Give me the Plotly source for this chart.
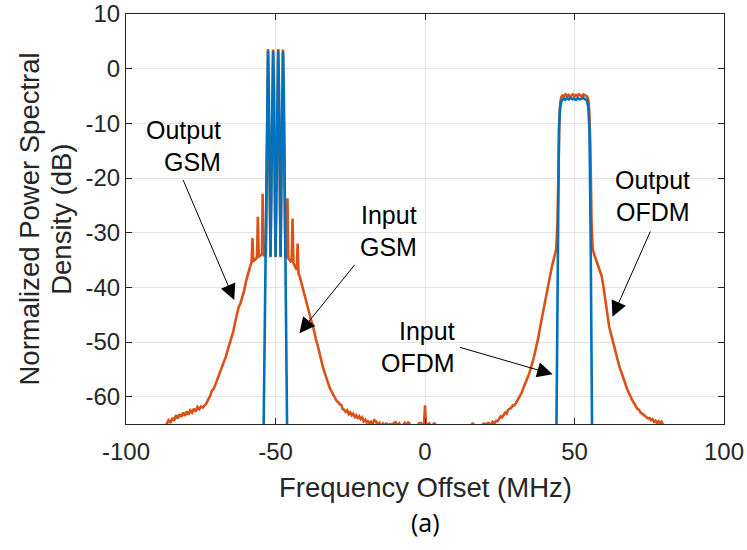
import plotly.graph_objects as go

# ---------------- data ----------------
# Output spectrum (orange), frequency offset in MHz and PSD in dB
out_x = [
    -100, -90, -88, -87.2, -86.4, -85.8, -85.1, -84.5, -83.9, -83.3, -82.7, -82.1, -81.5, -80.9,
    -80.3, -79.7, -79.1, -78.5, -77.9, -77.3, -76.7, -76.1, -75.5, -74.9, -74.3, -73.7, -73.1,
    -72.5, -71.9, -71.3, -70.7, -70.1, -69.5, -68.9, -68.3, -67.7, -67.1, -66.5, -65.9, -65.3,
    -64.7, -64.1, -63.5, -62.9, -62.3, -61.7, -61.1, -60.5, -59.9, -59.3, -58.8, -58.3,
    -58.0, -57.7, -57.4, -57.0, -56.6, -56.2, -55.9, -55.6, -55.2, -54.8, -54.5, -54.3, -54.0,
    -53.6, -53.2, -52.8, -52.5, -52.2, -51.7, -51.1, -50.8, -50.5, -50.0, -49.4, -49.1, -48.8,
    -48.3, -47.8, -47.5, -47.2, -46.7, -46.3, -46.0, -45.7, -45.3, -44.9, -44.6, -44.3, -44.0,
    -43.6, -43.2, -42.9, -42.6, -42.3, -41.9,
    -41.5, -41.0, -40.5, -40.0, -39.5, -39.0, -38.5, -38.0, -37.5, -37.0, -36.5, -36.0, -35.5,
    -35.0, -34.5, -34.0, -33.5, -33.0, -32.5, -32.0, -31.5, -31.0, -30.5, -30.0, -29.5, -29.0,
    -28.5, -28.0, -27.5, -27.0,
    -26.5, -26.0, -25.5, -25.0, -24.5, -24.0, -23.5, -23.0, -22.5, -22.0, -21.5, -21.0, -20.5,
    -20.0, -19.5, -19.0, -18.5, -18.0, -17.5, -17.0, -16.4, -15.8, -15.2, -14.6, -14.0, -13.4,
    -12.8, -12.2, -11.6, -11.0, -10.4, -9.8, -9.2, -8.6, -8.0, -7.4, -6.8, -6.2, -5.6, -5.0,
    -4.4, -3.8, -3.2, -2.6, -2.0, -1.4, -0.8, -0.3, 0.0, 0.3, 0.8, 1.4, 2.0, 2.6, 3.2, 3.8, 4.4,
    5.0, 6.0, 8.0, 10.0, 12.0, 14.0, 15.4, 15.9, 16.5, 17.2, 18.0, 18.8, 19.4, 19.8, 20.4, 21.0,
    21.5, 22.0, 22.6, 23.2, 23.8, 24.3, 24.8, 25.3, 25.8, 26.3, 26.8, 27.3, 27.8, 28.3, 28.8,
    29.3, 29.8, 30.4, 30.9, 31.4, 31.9, 32.4, 32.9, 33.4, 33.9, 34.4, 34.9, 35.4, 35.9, 36.4,
    36.9, 37.4, 37.9, 38.4, 38.9, 39.4, 39.9, 40.4, 40.9, 41.4, 41.9, 42.4, 42.9, 43.4, 43.9,
    44.3, 44.7, 45.0, 45.3, 45.6, 46.0, 46.5, 47.0, 47.5, 48.0, 48.5, 49.0, 49.5, 50.0, 50.5,
    51.0, 51.5, 52.0, 52.5, 53.0, 53.5, 54.0, 54.4, 54.7, 55.0, 55.3, 55.7, 56.1, 56.6, 57.1,
    57.6, 58.1, 58.6, 59.1, 59.6, 60.1, 60.6, 61.1, 61.6, 62.1, 62.6, 63.1, 63.6, 64.1, 64.6,
    65.1, 65.6, 66.1, 66.6, 67.1, 67.6, 68.1, 68.6, 69.1, 69.6, 70.1, 70.6, 71.1, 71.6, 72.1,
    72.6, 73.1, 73.6, 74.1, 74.6, 75.1, 75.6, 76.1, 76.6, 77.1, 77.6, 78.1, 78.6, 79.1, 79.5,
    80.0, 81.0, 90.0, 100.0,
]
out_y = [
    -70, -70, -67, -65.6, -65.0, -64.3, -64.8, -63.9, -64.4, -63.4, -64.0, -63.2, -63.7, -62.9,
    -63.5, -62.7, -63.3, -62.5, -62.9, -62.2, -62.7, -61.9, -62.3, -61.8, -62.0, -61.6, -61.2,
    -60.5, -59.9, -58.9, -58.6, -57.8, -56.9, -56.0, -55.2, -54.4, -53.4, -52.5, -51.3, -50.3,
    -49.1, -48.0, -46.4, -44.8, -43.6, -42.9, -41.9, -40.6, -39.0, -37.6, -36.8, -35.9,
    -35.4, -31.0, -35.3, -35.0, -34.8, -34.6, -27.1, -34.5, -34.2, -34.1, -33.8, -22.9, -34.0,
    -34.3, -33.5, -10.0, 3.6, -10.0, -34.5, -10.0, 3.5, -10.0, -34.5, -10.0, 3.6, -10.0,
    -34.5, -10.0, 3.5, -10.0, -34.0, -34.6, -23.7, -34.7, -35.0, -35.3, -35.2, -27.4, -35.6,
    -36.0, -36.4, -36.8, -32.0, -37.5, -38.0,
    -38.9, -39.6, -40.8, -41.9, -43.1, -44.0, -45.2, -46.2, -47.0, -48.4, -49.5, -50.4, -51.6,
    -52.8, -53.6, -54.9, -55.7, -56.7, -57.5, -58.2, -58.8, -59.4, -59.9, -60.3, -60.8, -61.0,
    -61.4, -61.5, -62.3, -62.4,
    -62.8, -62.5, -63.2, -62.9, -63.4, -63.1, -63.7, -63.4, -64.0, -63.6, -64.1, -63.8, -64.5,
    -64.2, -64.7, -64.4, -65.3, -64.6, -64.9, -64.3, -64.5, -65.2, -64.8, -65.5, -64.9, -65.3,
    -64.8, -65.6, -64.9, -65.4, -64.8, -64.7, -65.3, -64.9, -65.6, -65.1, -64.8, -65.4, -64.6, -65.2,
    -65.8, -65.4, -65.9, -65.3, -64.9, -64.8, -65.3, -64.9, -61.6, -64.9, -65.2, -64.9, -65.4, -65.1, -64.9, -65.3, -65.6,
    -66.2, -67.0, -68.0, -67.5, -68.0, -66.8, -65.8, -64.8, -65.3, -66.0, -66.4, -65.6, -65.0, -64.9, -65.2, -64.8,
    -64.9, -65.3, -64.6, -64.9, -64.4, -64.5, -64.0, -63.6, -63.8, -63.3, -62.9, -63.1, -62.4, -62.2, -62.1,
    -61.6, -61.6, -61.2, -60.7, -60.2, -59.8, -59.2, -58.4, -57.6, -57.0, -56.4, -55.7, -54.9, -53.8, -52.8,
    -51.7, -50.4, -49.2, -47.6, -46.1, -44.8, -43.3, -41.8, -40.2, -38.9, -37.5, -36.3, -35.2, -34.2, -33.0,
    -28.0, -14.0, -8.5, -6.0, -5.2, -4.9, -5.1, -4.7, -5.0, -4.8, -5.2, -4.9, -4.7, -5.1, -4.8,
    -5.0, -4.7, -4.9, -5.1, -4.7, -4.8, -5.0, -5.3, -6.0, -8.5, -14.0, -28.0, -33.0, -34.0, -34.8,
    -35.6, -36.4, -37.2, -38.0, -39.6, -41.6, -43.8, -45.9, -47.2, -48.3, -49.4, -50.3, -51.4, -52.6, -53.7,
    -54.7, -55.4, -56.3, -57.2, -57.9, -58.6, -59.2, -59.9, -60.4, -60.9, -61.4, -61.8, -62.3, -62.4, -62.9,
    -63.1, -63.3, -63.5, -63.7, -64.0, -63.9, -64.3, -64.1, -64.6, -64.4, -64.9, -64.5, -64.8, -64.6, -65.0,
    -65.6, -67.0, -70.0, -70.0,
]

# Input spectrum (blue): four GSM carriers and one OFDM carrier
in_x = [
    -100, -54.4, -53.9, -53.35, -53.05, -52.78, -52.5, -52.22, -51.95, -51.65, -51.35, -51.08, -50.8,
    -50.52, -50.25, -49.95, -49.65, -49.38, -49.1, -48.82, -48.55, -48.3, -48.05, -47.78, -47.5, -47.22,
    -46.95, -46.65, -46.2, -45.7,
    43.6, 44.4, 44.8, 45.2, 45.7, 46.3, 46.9, 47.5, 48.1, 48.7, 49.3, 49.9, 50.5, 51.1, 51.7,
    52.3, 52.9, 53.5, 54.1, 54.6, 55.0, 55.4, 56.2, 100,
]
in_y = [
    -90, -90, -62, -34.4, -20, -4, 3.3, -4, -20, -34.4, -20, -4, 3.2,
    -4, -20, -34.4, -20, -4, 3.3, -4, -20, -34.4, -20, -4, 3.2, -4,
    -20, -34.4, -62, -90,
    -90, -31, -11, -7, -5.8, -5.5, -5.7, -5.4, -5.6, -5.3, -5.6, -5.5, -5.7, -5.4, -5.6,
    -5.5, -5.3, -5.6, -5.7, -7, -11, -31, -90, -90,
]

x_ticks = [-100, -50, 0, 50, 100]
x_ticktext = ["-100", "-50", "0", "50", "100"]
y_ticks = [-60, -50, -40, -30, -20, -10, 0, 10]
y_ticktext = ["-60", "-50", "-40", "-30", "-20", "-10", "0", "10"]

# annotation texts and (tail, tip) points in data units
labels = [
    # (line1, line2, x_right, y_line1, y_line2, tail_x, tail_y, tip_x, tip_y)
    ("Output", "GSM", -67.5, -11.2, -17.0, -81.1, -20.1, -63.8, -42.3),
    ("Input", "GSM", -1.9, -26.8, -32.6, -23.1, -35.6, -42.0, -48.4),
    ("Input", "OFDM", 10.8, -48.0, -53.8, 11.2, -50.9, 42.7, -55.9),
    ("Output", "OFDM", 89.4, -20.4, -26.2, 75.6, -29.5, 62.7, -45.4),
]

ORANGE = "#D95319"
BLUE = "#0072BD"
DARK = "#262626"
FONT = "Liberation Sans, Arial, Helvetica, sans-serif"

fig = go.Figure()
fig.add_trace(go.Scatter(x=out_x, y=out_y, mode="lines",
                         line=dict(color=ORANGE, width=2.6), showlegend=False))
fig.add_trace(go.Scatter(x=in_x, y=in_y, mode="lines",
                         line=dict(color=BLUE, width=2.6), showlegend=False))

annotations = []
for l1, l2, xr, y1, y2, tx, ty, hx, hy in labels:
    annotations.append(dict(x=xr, y=y1, xref="x", yref="y", text=l1, showarrow=False,
                            xanchor="right", yanchor="middle",
                            font=dict(size=25, color="black", family=FONT)))
    annotations.append(dict(x=xr, y=y2, xref="x", yref="y", text=l2, showarrow=False,
                            xanchor="right", yanchor="middle",
                            font=dict(size=25, color="black", family=FONT)))
    annotations.append(dict(x=hx, y=hy, xref="x", yref="y", ax=tx, ay=ty,
                            axref="x", ayref="y", text="", showarrow=True,
                            arrowhead=2, arrowsize=3.1, arrowwidth=1,
                            arrowcolor="black", standoff=0, startstandoff=0))

annotations.append(dict(x=-0.163, y=0.5, xref="paper", yref="paper",
                        text="Normalized Power Spectral", textangle=-90,
                        showarrow=False, xanchor="center", yanchor="middle",
                        font=dict(size=27.5, color=DARK, family=FONT)))
annotations.append(dict(x=-0.109, y=0.5, xref="paper", yref="paper",
                        text="Density (dB)", textangle=-90,
                        showarrow=False, xanchor="center", yanchor="middle",
                        font=dict(size=27.5, color=DARK, family=FONT)))
annotations.append(dict(x=0.5, y=-0.156, xref="paper", yref="paper",
                        text="Frequency Offset (MHz)", showarrow=False,
                        xanchor="center", yanchor="middle",
                        font=dict(size=27.5, color=DARK, family=FONT)))
annotations.append(dict(x=0.5, y=-0.239, xref="paper", yref="paper",
                        text="(a)", showarrow=False,
                        xanchor="center", yanchor="middle",
                        font=dict(size=25, color="black", family="Open Sans, sans-serif")))

axis_common = dict(
    showline=True, linecolor=DARK, linewidth=1, mirror="ticks",
    ticks="inside", ticklen=6, tickcolor=DARK, tickwidth=1,
    showgrid=True, gridcolor="#e3e3e3", gridwidth=1, zeroline=False,
    tickfont=dict(size=24, color=DARK, family=FONT), automargin=False,
)

fig.update_layout(
    width=747, height=550,
    margin=dict(l=126, r=23, t=14, b=126),
    paper_bgcolor="white", plot_bgcolor="white",
    xaxis=dict(range=[-100, 100], tickvals=x_ticks, ticktext=x_ticktext,
               ticklabelstandoff=6, **axis_common),
    yaxis=dict(range=[-65, 10], tickvals=y_ticks, ticktext=y_ticktext, **axis_common),
    annotations=annotations,
    showlegend=False,
)

fig.write_html("out.html", config={"displayModeBar": False},
               post_script="document.body.style.margin='0';")
